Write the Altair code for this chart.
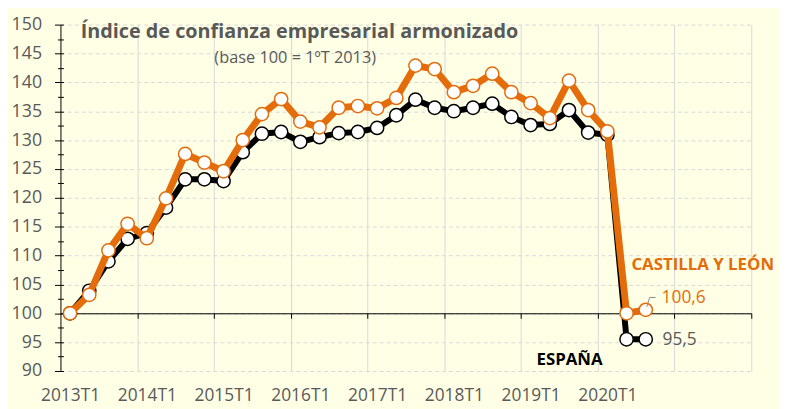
import altair as alt
import pandas as pd

# ---------------- data ----------------
quarters = [f"{y}T{q}" for y in range(2013, 2021) for q in range(1, 5)][:31]
cyl = [100.0, 103.2, 110.9, 115.5, 113.0, 119.9, 127.6, 126.1, 124.6, 130.0,
       134.5, 137.1, 133.2, 132.2, 135.6, 135.9, 135.5, 137.3, 142.9, 142.3,
       138.3, 139.4, 141.5, 138.3, 136.4, 133.8, 140.3, 135.2, 131.5, 100.0,
       100.6]
esp = [100.0, 103.9, 109.0, 112.9, 113.9, 118.3, 123.2, 123.2, 122.9, 127.9,
       131.1, 131.4, 129.7, 130.5, 131.2, 131.4, 132.1, 134.3, 137.0, 135.6,
       135.0, 135.6, 136.3, 134.0, 132.6, 132.8, 135.2, 131.3, 130.9, 95.5,
       95.5]
year_labels = ["2013T1", "2014T1", "2015T1", "2016T1", "2017T1", "2018T1",
               "2019T1", "2020T1"]
n_slots = 36  # axis runs 2013T1 .. 2021T4
title_txt = "Índice de confianza empresarial armonizado"
subtitle_txt = "(base 100 = 1ºT 2013)"
name_cyl = "CASTILLA Y LEÓN"
name_esp = "ESPAÑA"

# ---------------- style ----------------
ORANGE = "#E46C0A"
GRAY = "#595959"
GRID = "#D9D9D9"
BG = "#FFFFE6"
FONT = "Open Sans"
W, H = 698, 350
Y0, Y1 = 90, 150

idx = list(range(len(quarters)))
d_cyl = pd.DataFrame({"i": idx, "trimestre": quarters, "valor": cyl})
d_esp = pd.DataFrame({"i": idx, "trimestre": quarters, "valor": esp})
last_cyl = d_cyl.tail(1).assign(txt=f"{cyl[-1]:.1f}".replace(".", ","), nom=name_cyl)
last_esp = d_esp.tail(1).assign(txt=f"{esp[-1]:.1f}".replace(".", ","), nom=name_esp)

xs = alt.Scale(domain=[-0.5, n_slots - 0.5], nice=False, zero=False)
ys = alt.Scale(domain=[Y0, Y1], nice=False, zero=False)

bounds = [3.5 + 4 * k for k in range(n_slots // 4)]
label_pos = [4 * k for k in range(len(year_labels))]
lab_arr = "[" + ",".join(f"'{s}'" for s in year_labels) + "]"

ax_x_grid = alt.Axis(orient="bottom", values=bounds, grid=True, gridColor=GRID,
                     gridWidth=1, labels=False, ticks=False, domain=False, title=None)
ax_x_zero = alt.Axis(orient="bottom", values=bounds, grid=False, labels=False,
                     ticks=True, tickSize=5, tickColor="black", tickWidth=1,
                     domain=True, domainColor="black", domainWidth=1,
                     offset=-H * (100 - Y0) / (Y1 - Y0), title=None)
ax_x_lab = alt.Axis(orient="bottom", values=label_pos,
                    labelExpr=f"{lab_arr}[round(datum.value/4)]",
                    grid=False, ticks=False, domain=False, labelFont=FONT,
                    labelFontSize=17.5, labelColor=GRAY, labelPadding=30,
                    labelBaseline="alphabetic",
                    labelFlush=False, title=None)

ax_y_main = alt.Axis(orient="left", values=list(range(Y0, Y1 + 1, 5)), grid=True,
                     gridColor=GRID, gridDash=[4, 3], gridWidth=1,
                     domain=True, domainColor="black", domainWidth=1,
                     ticks=True, tickSize=6, tickColor="black", tickWidth=1,
                     labelFont=FONT, labelFontSize=18, labelColor=GRAY,
                     labelPadding=13, title=None)
ax_y_minor = alt.Axis(orient="left", values=[Y0 + 2.5 + 5 * k for k in range(12)],
                      grid=False, domain=False, ticks=True, tickSize=3,
                      tickColor="black", tickWidth=1, labels=False, title=None)
ax_y_in = alt.Axis(orient="right", values=[Y0 + 2.5 * k for k in range(25)],
                   grid=False, domain=False, ticks=True, tickSize=3,
                   tickColor="black", tickWidth=1, labels=False, title=None,
                   offset=-W)


def enc(chart, xa=None, ya=None):
    return chart.encode(
        x=alt.X("i:Q", scale=xs, axis=xa),
        y=alt.Y("valor:Q", scale=ys, axis=ya),
    )


line_esp = enc(alt.Chart(d_esp).mark_line(color="black", strokeWidth=6),
               ax_x_grid, ax_y_main)
pts_esp = enc(alt.Chart(d_esp).mark_circle(fill="white", stroke="black",
                                           strokeWidth=1.5, size=180, opacity=1),
              ax_x_zero, ax_y_minor)
line_cyl = enc(alt.Chart(d_cyl).mark_line(color=ORANGE, strokeWidth=7),
               ax_x_lab, ax_y_in)
pts_cyl = enc(alt.Chart(d_cyl).mark_circle(fill="white", stroke=ORANGE,
                                           strokeWidth=1.5, size=180, opacity=1))

leader = alt.Chart(last_cyl).mark_rule(color="#8C8C8C", strokeWidth=1,
                                       xOffset=1, yOffset=-3,
                                       x2Offset=4, y2Offset=-12.5).encode(
    x=alt.X("i:Q", scale=xs, axis=None), y=alt.Y("valor:Q", scale=ys, axis=None),
    x2="i:Q", y2="valor:Q")
leader2 = alt.Chart(last_cyl).mark_rule(color="#8C8C8C", strokeWidth=1,
                                        xOffset=4, yOffset=-12.5,
                                        x2Offset=10, y2Offset=-12.5).encode(
    x=alt.X("i:Q", scale=xs, axis=None), y=alt.Y("valor:Q", scale=ys, axis=None),
    x2="i:Q", y2="valor:Q")

val_cyl = enc(alt.Chart(last_cyl).mark_text(align="left", baseline="middle",
                                            dx=16, dy=-11.5, font=FONT,
                                            fontSize=17.5, color=ORANGE)
              ).encode(text="txt:N")
val_esp = enc(alt.Chart(last_esp).mark_text(align="left", baseline="middle",
                                            dx=17, dy=1, font=FONT,
                                            fontSize=17.5, color=GRAY)
              ).encode(text="txt:N")
nom_cyl = enc(alt.Chart(last_cyl).mark_text(align="left", baseline="middle",
                                            dx=-14.5, dy=-45.5, font=FONT,
                                            fontSize=17, fontWeight="bold",
                                            color=ORANGE)
              ).encode(text="nom:N")
nom_esp = enc(alt.Chart(last_esp).mark_text(align="center", baseline="middle",
                                            dx=-77, dy=21, font=FONT,
                                            fontSize=17, fontWeight="bold",
                                            color="black")
              ).encode(text="nom:N")

title = alt.Chart(pd.DataFrame({"t": [title_txt]})).mark_text(
    align="left", baseline="alphabetic", font=FONT, fontSize=20,
    fontWeight="bold", color=GRAY).encode(
    x=alt.value(20.5), y=alt.value(13.5), text="t:N")
subtitle = alt.Chart(pd.DataFrame({"t": [subtitle_txt]})).mark_text(
    align="left", baseline="alphabetic", font=FONT, fontSize=16.5,
    color=GRAY).encode(
    x=alt.value(155.5), y=alt.value(38.5), text="t:N")

chart = alt.layer(
    line_esp, pts_esp, line_cyl, pts_cyl, leader, leader2,
    val_cyl, val_esp, nom_cyl, nom_esp, title, subtitle,
).resolve_axis(x="independent", y="independent").properties(
    width=W, height=H, background=BG,
    padding={"left": 53, "top": 14.7, "right": 28, "bottom": 36.3},
    autosize="none",
).configure_view(stroke=None)

chart.save("out.html", embed_options={"renderer": "svg", "actions": False})
